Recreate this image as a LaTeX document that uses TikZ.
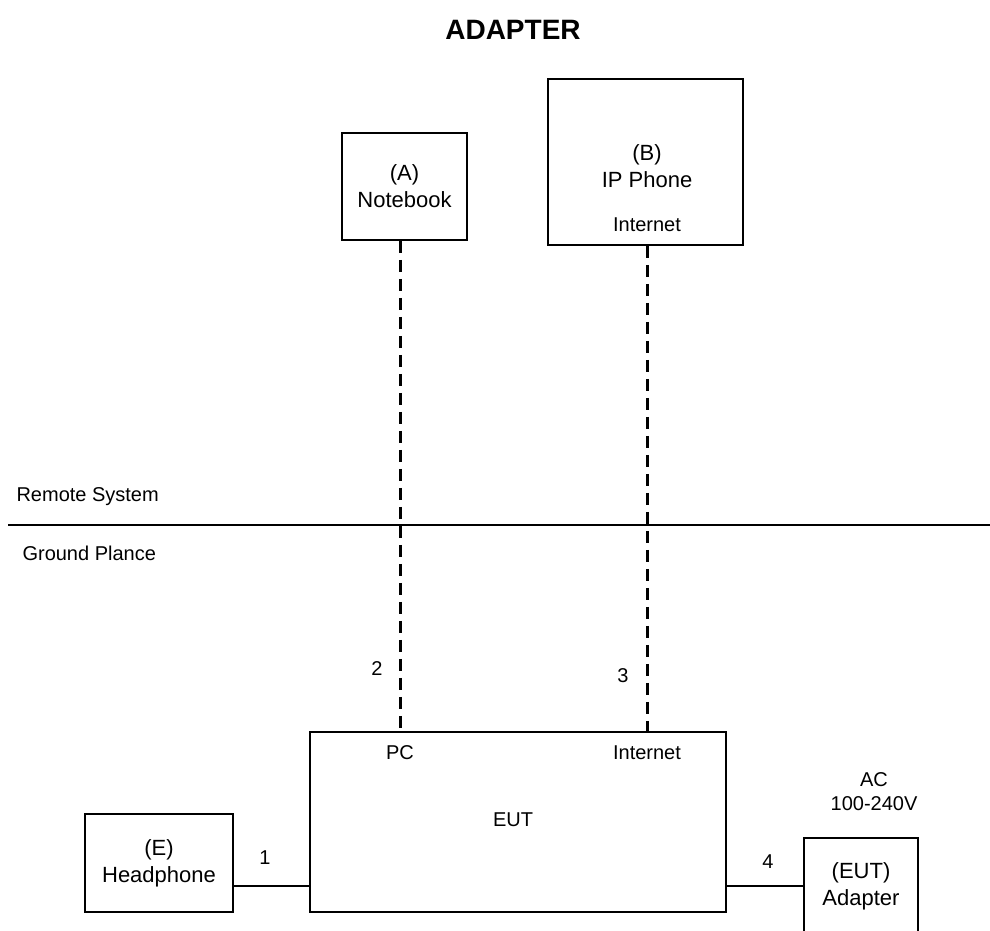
\documentclass[tikz,border=0pt]{standalone}
\usepackage{fontspec}
\setmainfont{Liberation Sans}
\tikzset{
  unitbox/.style={draw, line width=1.8pt, inner sep=0pt, align=center, font=\fontsize{22}{27}\selectfont},
  boxtext/.style={align=center, font=\fontsize{22}{27}\selectfont},
  lbl/.style={font=\fontsize{20}{24}\selectfont},
  cable/.style={line width=1.8pt},
  lancable/.style={line width=3pt, dash pattern=on 12pt off 7pt}
}
\begin{document}
\begin{tikzpicture}[x=1pt,y=-1pt]
\useasboundingbox (0,0) rectangle (990,931);
\node[font=\bfseries\fontsize{28}{32}\selectfont] (title) at (513,30) {ADAPTER};
% remote system
\node[unitbox, minimum width=125pt, minimum height=107pt] (nb) at (404.5,186.5) {(A)\\Notebook};
\node[unitbox, minimum width=195pt, minimum height=166pt] (ipp) at (645.5,162) {};
\node[boxtext] (ipptxt) at (647,166) {(B)\\IP Phone};
\node[lbl] (ippnet) at (647,225) {Internet};
\draw[cable] (8,525) -- (990,525);
\node[lbl, anchor=west] (remote) at (13,497) {Remote System};
\node[lbl, anchor=west] (ground) at (19,553) {Ground Plance};
% ground plane
\node[unitbox, minimum width=416pt, minimum height=180pt] (eut) at (518,822) {};
\node[lbl] (euttxt) at (513,820) {EUT};
\node[lbl] (pc) at (400,753) {PC};
\node[lbl] (eutnet) at (647,753) {Internet};
\node[unitbox, minimum width=148pt, minimum height=98pt] (hp) at (159,863) {(E)\\Headphone};
\node[unitbox, minimum width=114pt, minimum height=96pt] (adp) at (861,886) {(EUT)\\Adapter};
\node[lbl, align=center] (ac) at (874,792) {AC\\100-240V};
% cables
\coordinate (pcport) at (400,732);
\coordinate (hpport) at ([yshift=-23pt]hp.east);
\draw[lancable] (pcport |- nb.south) -- (pcport);
\draw[lancable] (ipp.south -| ippnet) -- (ippnet |- eut.north);
\draw[cable] (hpport) -- (hpport -| eut.west);
\draw[cable] (adp.west -| eut.east) -- (adp.west);
\node[lbl] (n1) at (265,858) {1};
\node[lbl] (n2) at (377,669) {2};
\node[lbl] (n3) at (623,676) {3};
\node[lbl] (n4) at (768,862) {4};
\end{tikzpicture}
\end{document}
